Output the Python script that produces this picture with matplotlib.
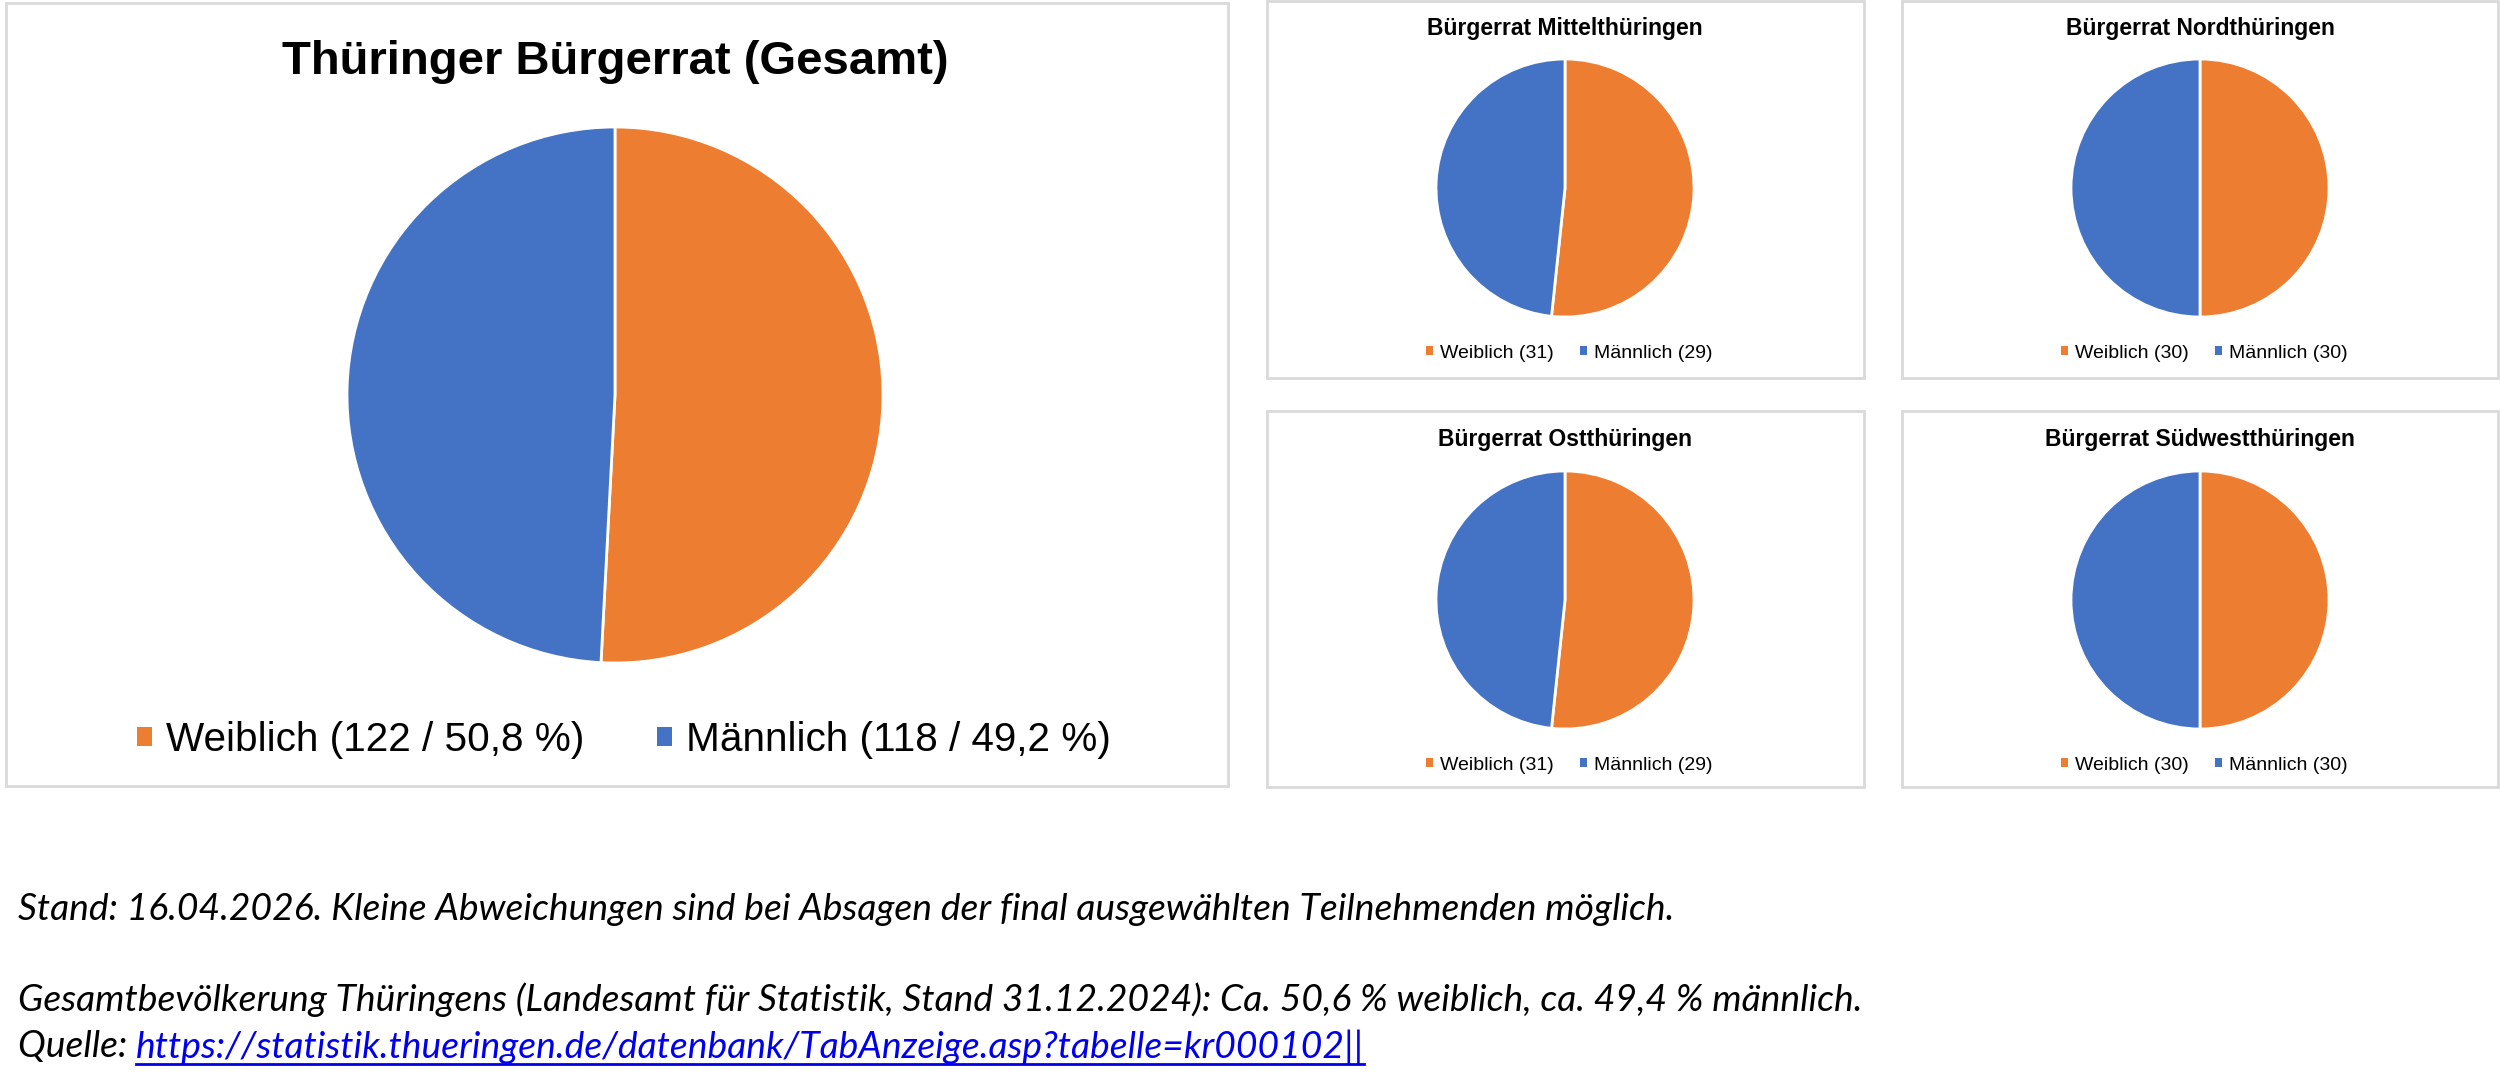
import matplotlib
matplotlib.use("Agg")
import matplotlib.pyplot as plt
from matplotlib.patches import Rectangle, Patch
from matplotlib.lines import Line2D

# Daten
labels = ["Weiblich", "Männlich"]
colors = ["#ED7D31", "#4472C4"]

gesamt_title = "Thüringer Bürgerrat (Gesamt)"
gesamt_values = [122, 118]

region_titles = ["Bürgerrat Mittelthüringen", "Bürgerrat Nordthüringen",
                 "Bürgerrat Ostthüringen", "Bürgerrat Südwestthüringen"]
weiblich = [31, 30, 31, 30]
maennlich = [29, 30, 29, 30]

note_stand = "Stand: 16.04.2026. Kleine Abweichungen sind bei Absagen der final ausgewählten Teilnehmenden möglich."
note_bev = "Gesamtbevölkerung Thüringens (Landesamt für Statistik, Stand 31.12.2024): Ca. 50,6 % weiblich, ca. 49,4 % männlich."
note_quelle = "Quelle: "
note_link = "https://statistik.thueringen.de/datenbank/TabAnzeige.asp?tabelle=kr000102||"

W, H = 2500, 1089
plt.rcParams['font.family'] = ['Liberation Sans', 'DejaVu Sans']
fig = plt.figure(figsize=(W / 100, H / 100), dpi=100)


def fx(px):
    return px / W


def fy(py):
    return 1 - py / H


def box(x0, y0, x1, y1):
    fig.patches.append(Rectangle((fx(x0), fy(y1)), fx(x1 - x0), (y1 - y0) / H,
                                 transform=fig.transFigure, fill=False,
                                 edgecolor="#D9D9D9", linewidth=2))


def pie_panel(cx, cy, r, values, title, title_y, title_size,
              leg_labels, leg_x, leg_y, leg_size, colspace):
    ax = fig.add_axes([fx(cx - r), fy(cy + r), fx(2 * r), 2 * r / H])
    ax.pie(values, colors=colors, startangle=90, counterclock=False,
           wedgeprops=dict(edgecolor="white", linewidth=2))
    ax.set_xlim(-1, 1)
    ax.set_ylim(-1, 1)
    ax.axis("off")
    fig.text(fx(cx), fy(title_y), title, ha="center", va="center",
             fontsize=title_size, fontweight="bold")
    handles = [Patch(facecolor=c, edgecolor="none") for c in colors]
    fig.legend(handles, leg_labels, loc="center", bbox_to_anchor=(fx(leg_x), fy(leg_y)),
               ncol=2, frameon=False, fontsize=leg_size, handlelength=0.38, handleheight=0.38,
               handletextpad=0.34, columnspacing=colspace, borderpad=0)


# Gesamt
box(6, 3, 1228, 786)
total = sum(gesamt_values)
main_labels = [f"{lab} ({v} / {v / total * 100:.1f} %)".replace(".", ",")
               for lab, v in zip(labels, gesamt_values)]
pie_panel(615, 395, 268, gesamt_values, gesamt_title, 62, 34,
          main_labels, 624, 740, 29.2, 1.78)

# Regionen
cols_x = [(1267, 1864, 1565), (1902, 2498, 2200)]
rows_y = [(1, 378, 188, 29, 353), (411, 787, 600, 440, 765)]
for i, title in enumerate(region_titles):
    x0, x1, cx = cols_x[i % 2]
    y0, y1, cy, ty, ly = rows_y[i // 2]
    box(x0, y0, x1, y1)
    vals = [weiblich[i], maennlich[i]]
    leg = [f"{lab} ({v})" for lab, v in zip(labels, vals)]
    pie_panel(cx, cy, 129, vals, title, ty, 16.5, leg, cx + 4, ly, 14, 1.34)

# Fußnoten
note_font = dict(family=["Lato", "DejaVu Sans"], style="italic", fontsize=26.8)
fig.text(fx(18), fy(910), note_stand, va="center", ha="left", **note_font)
fig.text(fx(18), fy(1000), note_bev, va="center", ha="left", **note_font)
tq = fig.text(fx(18), fy(1047), note_quelle, va="center", ha="left", **note_font)
fig.canvas.draw()
r = fig.canvas.get_renderer()
bb = tq.get_window_extent(r)
tl = fig.text(bb.x1 / W, fy(1047), note_link, va="center", ha="left", color="#0000EE", **note_font)
fig.canvas.draw()
bl = tl.get_window_extent(r)
fig.lines.append(Line2D([bl.x0 / W, bl.x1 / W], [fy(1064), fy(1064)],
                        transform=fig.transFigure, color="#0000EE", linewidth=2))

fig.savefig("out.png", dpi=100)
